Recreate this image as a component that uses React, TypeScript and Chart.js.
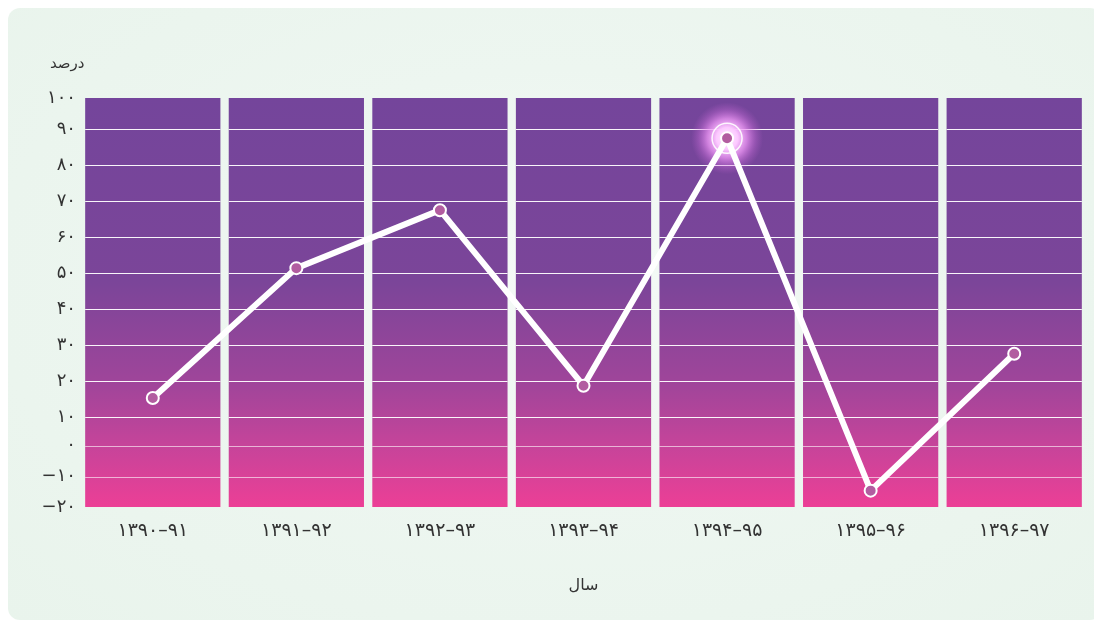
import React, { useEffect, useRef } from 'react';
import { Chart, registerables, LinearScale } from 'chart.js';

const CATEGORIES = ['۱۳۹۰–۹۱', '۱۳۹۱–۹۲', '۱۳۹۲–۹۳', '۱۳۹۳–۹۴', '۱۳۹۴–۹۵', '۱۳۹۵–۹۶', '۱۳۹۶–۹۷'];
const VALUES = [15.3, 51.4, 67.5, 18.7, 87.5, -14.6, 27.6];
const Y_TICK_VALUES = [-20, -10, 0, 10, 20, 30, 40, 50, 60, 70, 80, 90, 100];
const Y_TICK_LABELS = ['−۲۰', '−۱۰', '۰', '۱۰', '۲۰', '۳۰', '۴۰', '۵۰', '۶۰', '۷۰', '۸۰', '۹۰', '۱۰۰'];
const HIGHLIGHT_INDEX = 4;
const Y_AXIS_TITLE = 'درصد';
const X_AXIS_TITLE = 'سال';

// The reference's value axis is not uniform: value anchors -> fraction of the axis height
const Y_ANCHOR_VALUES = [-20, -10, 0, 10, 90, 100];
const Y_ANCHOR_FRACTIONS = [0, 0.074, 0.1498, 0.2199, 0.9235, 1];

const Y_MIN = Y_TICK_VALUES[0];
const Y_MAX = Y_TICK_VALUES[Y_TICK_VALUES.length - 1];
const FONT = "'DejaVu Sans', sans-serif";

function interp(xs: number[], ys: number[], v: number) {
  const n = xs.length;
  if (v <= xs[0]) return ys[0] + ((v - xs[0]) * (ys[1] - ys[0])) / (xs[1] - xs[0]);
  for (let i = 1; i < n; i++) {
    if (v <= xs[i]) return ys[i - 1] + ((v - xs[i - 1]) * (ys[i] - ys[i - 1])) / (xs[i] - xs[i - 1]);
  }
  return ys[n - 1] + ((v - xs[n - 1]) * (ys[n - 1] - ys[n - 2])) / (xs[n - 1] - xs[n - 2]);
}

class BandedScale extends LinearScale {
  static id = 'banded';
  static defaults = LinearScale.defaults;
  getPixelForValue(value: number) {
    const f = interp(Y_ANCHOR_VALUES, Y_ANCHOR_FRACTIONS, value);
    return this.bottom - f * (this.bottom - this.top);
  }
  getValueForPixel(pixel: number) {
    const f = (this.bottom - pixel) / (this.bottom - this.top);
    return interp(Y_ANCHOR_FRACTIONS, Y_ANCHOR_VALUES, f);
  }
}

Chart.register(...registerables, BandedScale as any);

const overlayPlugin = {
  id: 'overlay',
  afterDatasetDraw(chart: any, args: any) {
    if (args.index !== 0) return;
    const ctx = chart.ctx;
    const yScale = chart.scales.y;
    const bars = chart.getDatasetMeta(0).data;
    ctx.save();
    Y_TICK_VALUES.forEach((v) => {
      if (v <= Y_MIN || v >= Y_MAX) return;
      const py = Math.round(yScale.getPixelForValue(v)) + 0.5;
      ctx.strokeStyle = v <= 0 ? 'rgba(255,255,255,0.6)' : 'rgba(255,255,255,0.95)';
      ctx.lineWidth = 1;
      bars.forEach((b: any) => {
        const { x, width } = b.getProps(['x', 'width'], true);
        ctx.beginPath();
        ctx.moveTo(x - width / 2, py);
        ctx.lineTo(x + width / 2, py);
        ctx.stroke();
      });
    });
    const pt = chart.getDatasetMeta(1).data[HIGHLIGHT_INDEX];
    if (pt) {
      const { x, y } = pt.getProps(['x', 'y'], true);
      const R = 36;
      const g = ctx.createRadialGradient(x, y, 0, x, y, R);
      g.addColorStop(0, 'rgba(255,240,255,1)');
      g.addColorStop(0.3, 'rgba(252,200,255,1)');
      g.addColorStop(0.55, 'rgba(238,150,245,0.75)');
      g.addColorStop(0.8, 'rgba(215,115,225,0.3)');
      g.addColorStop(1, 'rgba(200,100,210,0)');
      ctx.fillStyle = g;
      ctx.beginPath();
      ctx.arc(x, y, R, 0, Math.PI * 2);
      ctx.fill();
      ctx.strokeStyle = 'rgba(255,255,255,0.9)';
      ctx.lineWidth = 1.5;
      ctx.beginPath();
      ctx.arc(x, y, 15, 0, Math.PI * 2);
      ctx.stroke();
    }
    ctx.restore();
  },
};

export default function App() {
  const ref = useRef<HTMLCanvasElement>(null);
  useEffect(() => {
    const chart = new Chart(ref.current as HTMLCanvasElement, {
      type: 'bar',
      data: {
        labels: CATEGORIES,
        datasets: [
          {
            type: 'bar',
            data: CATEGORIES.map(() => [Y_MIN, Y_MAX]) as any,
            backgroundColor: (c: any) => {
              const a = c.chart.chartArea;
              if (!a) return '#7a4599';
              const g = c.chart.ctx.createLinearGradient(0, a.top, 0, a.bottom);
              g.addColorStop(0, '#74459B');
              g.addColorStop(0.45, '#7B4599');
              g.addColorStop(0.7, '#A0459A');
              g.addColorStop(0.85, '#C6449A');
              g.addColorStop(1, '#EC3F96');
              return g;
            },
            borderWidth: 0,
            borderSkipped: false,
            barPercentage: 1,
            categoryPercentage: 0.942,
            order: 2,
          },
          {
            type: 'line',
            data: VALUES,
            borderColor: '#ffffff',
            borderWidth: 6,
            tension: 0,
            pointRadius: 6,
            pointBackgroundColor: '#B25DA0',
            pointBorderColor: '#ffffff',
            pointBorderWidth: 2,
            order: 1,
          } as any,
        ],
      },
      options: {
        animation: false,
        responsive: true,
        maintainAspectRatio: false,
        events: [],
        layout: { padding: { left: 19, right: 16, top: 90, bottom: 0 } },
        plugins: { legend: { display: false }, tooltip: { enabled: false } },
        scales: {
          x: {
            grid: { display: false, drawTicks: false },
            border: { display: false },
            ticks: { color: '#333', font: { family: FONT, size: 19 }, padding: 13 },
            title: {
              display: true,
              text: X_AXIS_TITLE,
              color: '#333',
              font: { family: FONT, size: 16 },
              padding: { top: 0, bottom: 25 },
            },
            afterFit: (s: any) => {
              s.height = 113;
            },
          },
          y: {
            type: 'banded' as any,
            min: Y_MIN,
            max: Y_MAX,
            grid: { display: false, drawTicks: false },
            border: { display: false },
            ticks: {
              stepSize: 10,
              color: '#333',
              font: { family: FONT, size: 18 },
              padding: 5,
              callback: (v: any) => {
                const i = Y_TICK_VALUES.indexOf(Number(v));
                return i >= 0 ? Y_TICK_LABELS[i] : '';
              },
            },
            afterFit: (s: any) => {
              s.width = 54;
            },
          } as any,
        },
      },
      plugins: [overlayPlugin],
    } as any);
    return () => chart.destroy();
  }, []);

  return (
    <div
      style={{
        position: 'relative',
        width: 1094,
        height: 612,
        borderRadius: 12,
        overflow: 'hidden',
        background: 'radial-gradient(ellipse at 50% 45%, #F5FAF7 0%, #EDF6F0 45%, #E9F4EC 100%)',
        fontFamily: FONT,
      }}
    >
      <div style={{ position: 'absolute', left: 0, top: 0, width: 1094, height: 612 }}>
        <canvas ref={ref} />
      </div>
      <div
        style={{
          position: 'absolute',
          left: 42,
          top: 46,
          fontSize: 15,
          lineHeight: '18px',
          color: '#333',
          direction: 'rtl',
        }}
      >
        {Y_AXIS_TITLE}
      </div>
    </div>
  );
}
